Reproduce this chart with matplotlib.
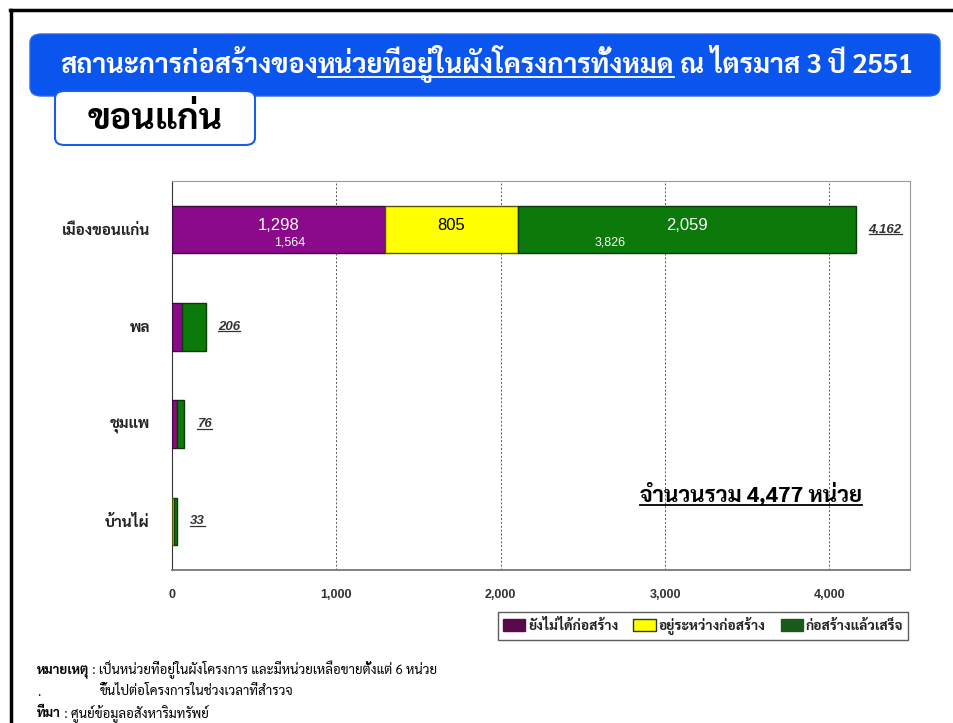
import matplotlib
matplotlib.use("Agg")
import matplotlib.pyplot as plt
from matplotlib import font_manager
from matplotlib.patches import FancyBboxPatch, Patch
from matplotlib.lines import Line2D

# data
districts = ["เมืองขอนแก่น", "พล", "ชุมแพ", "บ้านไผ่"]
not_started = [1298, 60, 28, 0]
in_progress = [805, 0, 0, 12]
completed = [2059, 146, 48, 21]
totals = [4162, 206, 76, 33]
series_names = ["ยังไม่ได้ก่อสร้าง", "อยู่ระหว่างก่อสร้าง", "ก่อสร้างแล้วเสร็จ"]
xticks = [0, 1000, 2000, 3000, 4000]
grand_total = "4,477"

bold_fams = {f.name for f in font_manager.fontManager.ttflist
             if f.weight in (700, "bold")}
thai = next((n for n in ["Sarabun", "Noto Sans Thai Looped", "Noto Sans Thai",
                         "Bai Jamjuree"] if n in bold_fams), "DejaVu Sans")
plt.rcParams["font.family"] = [thai, "Liberation Sans", "DejaVu Sans"]
num_font = ["Liberation Sans", "DejaVu Sans"]

fig = plt.figure(figsize=(9.54, 7.23), dpi=100)
W, H = 954, 723


def fx(px):
    return px / W


def fy(py):
    return 1 - py / H


# outer frame (left and top only)
fig.add_artist(Line2D([fx(11), fx(11)], [fy(10), 0], color="black", lw=2.5))
fig.add_artist(Line2D([fx(10), 1], [fy(10), fy(10)], color="black", lw=2.5))

# title banner
fig.add_artist(FancyBboxPatch((fx(30), fy(96)), fx(910), 62 / H,
                              boxstyle="round,pad=0,rounding_size=0.012",
                              transform=fig.transFigure, fc="#0a55ee", ec="#2a66ee", lw=1))
r = fig.canvas.get_renderer()
x0 = fx(60)
parts = [("สถานะการก่อสร้างของ", False), ("หน่วยที่อยู่ในผังโครงการทั้งหมด", True),
         (" ณ ไตรมาส 3 ปี 2551", False)]
for txt, und in parts:
    t = fig.text(x0, fy(73), txt, color="white", fontsize=19.5, fontweight="bold",
                 va="baseline", ha="left")
    b = t.get_window_extent(r)
    if und:
        fig.add_artist(Line2D([b.x0 / W, b.x1 / W], [fy(77), fy(77)], color="white", lw=1.3))
    x0 = b.x1 / W

# province box
fig.add_artist(FancyBboxPatch((fx(55), fy(145)), fx(200), 54 / H,
                              boxstyle="round,pad=0,rounding_size=0.01",
                              transform=fig.transFigure, fc="white", ec="#1a5ee8", lw=1.5))
fig.text(fx(155), fy(129), "ขอนแก่น", fontsize=26, fontweight="bold",
         ha="center", va="baseline", color="black")

# chart
ax = fig.add_axes([fx(172), fy(570), fx(910 - 172), (570 - 181) / H])
y = list(range(len(districts)))
left2 = [a + b for a, b in zip(not_started, in_progress)]
ax.barh(y, not_started, height=0.49, color="#8b0a8b", edgecolor="#3a0a3a", lw=1, zorder=3)
ax.barh(y, in_progress, left=not_started, height=0.49, color="#ffff00",
        edgecolor="#555500", lw=1, zorder=3)
ax.barh(y, completed, left=left2, height=0.49, color="#0b7a0b",
        edgecolor="#0a3a0a", lw=1, zorder=3)

ax.set_xlim(0, 4490)
ax.set_ylim(3.5, -0.5)
ax.set_xticks(xticks)
ax.set_xticklabels([f"{v:,}" for v in xticks], fontweight="bold", fontsize=9,
                   color="#333333", family=num_font)
ax.set_yticks(y)
ax.set_yticklabels(districts, fontweight="bold", fontsize=11, color="#222222")
ax.tick_params(axis="both", length=0)
ax.tick_params(axis="x", pad=14)
ax.tick_params(axis="y", pad=16)
ax.grid(axis="x", linestyle=(0, (2, 2)), color="#555555", lw=0.7, zorder=0)
for s in ["top", "right"]:
    ax.spines[s].set_color("#999999")
ax.spines["left"].set_color("#333333")
ax.spines["bottom"].set_color("#777777")
ax.spines["bottom"].set_linewidth(1.3)

# labels on big bar
lab = dict(ha="center", va="center", family=num_font, zorder=4)
ax.text(not_started[0] / 2, -0.04, f"{not_started[0]:,}", color="white", fontsize=12, **lab)
ax.text(not_started[0] / 2 + 70, 0.13, "1,564", color="white", fontsize=9, **lab)
ax.text(not_started[0] + in_progress[0] / 2, -0.04, f"{in_progress[0]:,}", color="black",
        fontsize=12, **lab)
ax.text(left2[0] + completed[0] / 2, -0.04, f"{completed[0]:,}", color="white",
        fontsize=12, **lab)
ax.text(left2[0] + 560, 0.13, "3,826", color="white", fontsize=9, **lab)

fig.canvas.draw()
for yi, tot in zip(y, totals):
    tt = ax.annotate(f"{tot:,}", (tot, yi), xytext=(9, 0), textcoords="offset points",
                     ha="left", va="center", fontsize=9.5, fontweight="bold", style="italic",
                     color="#333333", family=num_font)
    b = tt.get_window_extent(r)
    fig.add_artist(Line2D([b.x0 / W, b.x1 / W], [b.y0 / H + 0.002, b.y0 / H + 0.002],
                          color="#333333", lw=0.9))

# total note
tn = fig.text(fx(640), fy(501), f"จำนวนรวม {grand_total} หน่วย", fontsize=16,
              fontweight="bold", ha="left", va="baseline", color="black")
b = tn.get_window_extent(r)
fig.add_artist(Line2D([b.x0 / W, b.x1 / W], [fy(505), fy(505)], color="black", lw=1.3))

# legend
handles = [Patch(fc="#5a0a4a", ec="#5a0a4a"), Patch(fc="#ffff00", ec="#333333"),
           Patch(fc="#1a5a1a", ec="#1a5a1a")]
leg = fig.legend(handles, series_names, loc="center", bbox_to_anchor=(fx(703), fy(626)),
                 ncol=3, frameon=True, fancybox=False, edgecolor="#333333",
                 fontsize=10, handlelength=1.6, handleheight=0.9, handletextpad=0.2,
                 columnspacing=1.1, borderpad=0.35, borderaxespad=0)
for t in leg.get_texts():
    t.set_fontweight("bold")
    t.set_color("#222222")
leg.get_frame().set_linewidth(1)

# footnotes
fn = fig.text(fx(37), fy(674), "หมายเหตุ", fontsize=9.5, fontweight="bold", va="baseline")
b = fn.get_window_extent(r)
fig.text(b.x1 / W, fy(674), " : เป็นหน่วยที่อยู่ในผังโครงการ และมีหน่วยเหลือขายตั้งแต่ 6 หน่วย",
         fontsize=9.5, va="baseline")
fig.text(fx(37), fy(696), ".", fontsize=9.5, va="baseline")
fig.text(fx(100), fy(695), "ขึ้นไปต่อโครงการในช่วงเวลาที่สำรวจ", fontsize=9.5, va="baseline")
fs = fig.text(fx(37), fy(717), "ที่มา", fontsize=9.5, fontweight="bold", va="baseline")
b = fs.get_window_extent(r)
fig.text(b.x1 / W, fy(717), " : ศูนย์ข้อมูลอสังหาริมทรัพย์", fontsize=9.5, va="baseline")

fig.savefig("out.png", dpi=100)
